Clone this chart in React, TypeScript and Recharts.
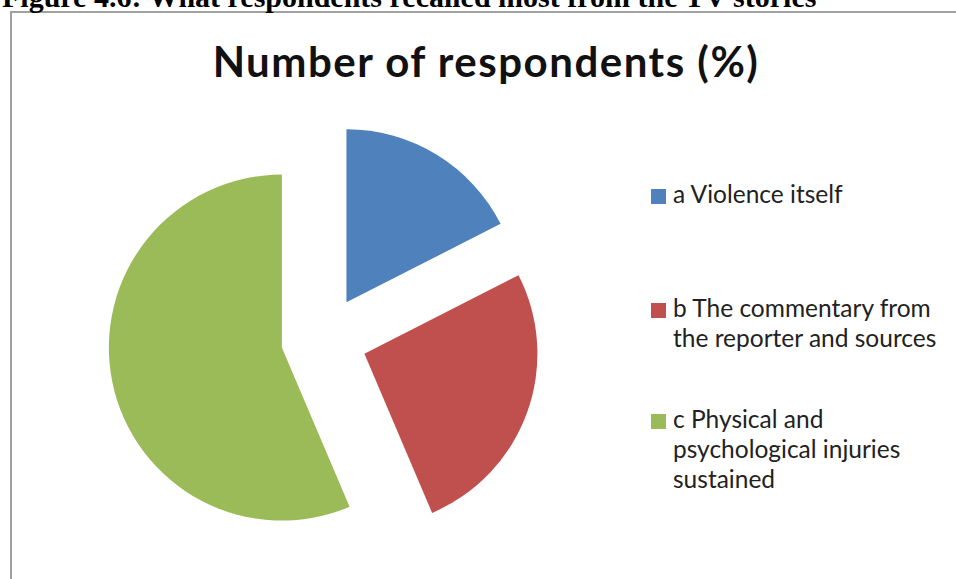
import React from "react";
import { PieChart, Pie, Cell, Legend, Sector } from "recharts";

const categories = [
  "a Violence itself",
  "b The commentary from the reporter and sources",
  "c Physical and psychological injuries sustained",
];
const respondents = [17.5, 26.1, 56.4];
const colors = ["#4F81BD", "#C0504D", "#9BBB59"];
const chartTitle = "Number of respondents (%)";
const caption = "Figure 4.6: What respondents recalled most from the TV stories";

const data = categories.map((name, i) => ({ name, value: respondents[i] }));

const EXPLODE = 43;
const RAD = Math.PI / 180;

const ExplodedSector = (props: any) => {
  const { cx, cy, midAngle } = props;
  const dx = Math.cos(-midAngle * RAD) * EXPLODE;
  const dy = Math.sin(-midAngle * RAD) * EXPLODE;
  return <Sector {...props} cx={cx + dx} cy={cy + dy} />;
};

const legendMargins = [84, 51, 0];

const renderLegend = (props: any) => {
  const payload = props.payload || [];
  return (
    <div style={{ fontFamily: "Lato", fontSize: 24.5, lineHeight: "30px", color: "#222" }}>
      {payload.map((entry: any, i: number) => (
        <div key={i} style={{ display: "flex", alignItems: "flex-start", marginBottom: legendMargins[i] }}>
          <div
            style={{
              width: 15,
              height: 15,
              background: entry.color,
              marginTop: 10,
              marginRight: 7,
              flex: "0 0 auto",
            }}
          />
          <div style={{ width: 278 }}>{entry.value}</div>
        </div>
      ))}
    </div>
  );
};

export default function App() {
  return (
    <div
      style={{
        position: "absolute",
        left: 0,
        top: 0,
        width: 956,
        height: 579,
        background: "#fff",
        overflow: "hidden",
      }}
    >
      <div
        style={{
          position: "absolute",
          left: 10,
          top: 11,
          width: 1000,
          height: 700,
          borderLeft: "2px solid #a0a0a0",
          borderTop: "2px solid #a0a0a0",
        }}
      />
      <div
        style={{
          position: "absolute",
          left: 2,
          top: -18,
          fontFamily: "Liberation Serif",
          fontWeight: "bold",
          fontSize: 30,
          lineHeight: "30px",
          whiteSpace: "nowrap",
          color: "#000",
        }}
      >
        {caption}
      </div>
      <div
        style={{
          position: "absolute",
          left: 486,
          top: 39.5,
          transform: "translateX(-50%)",
          fontFamily: "Lato",
          fontWeight: "bold",
          fontSize: 42,
          letterSpacing: 1.5,
          lineHeight: "42px",
          whiteSpace: "nowrap",
          color: "#111",
        }}
      >
        {chartTitle}
      </div>
      <div style={{ position: "absolute", left: 0, top: 0 }}>
        <PieChart width={956} height={579}>
          <Pie
            data={data}
            dataKey="value"
            nameKey="name"
            cx={319}
            cy={334}
            outerRadius={173}
            startAngle={90}
            endAngle={-270}
            stroke="none"
            isAnimationActive={false}
            shape={ExplodedSector}
            activeShape={ExplodedSector}
            inactiveShape={ExplodedSector}
          >
            {data.map((d, i) => (
              <Cell key={d.name} fill={colors[i]} />
            ))}
          </Pie>
          <Legend
            content={renderLegend}
            wrapperStyle={{ position: "absolute", left: 651, top: 178.5, width: 300 }}
          />
        </PieChart>
      </div>
    </div>
  );
}
